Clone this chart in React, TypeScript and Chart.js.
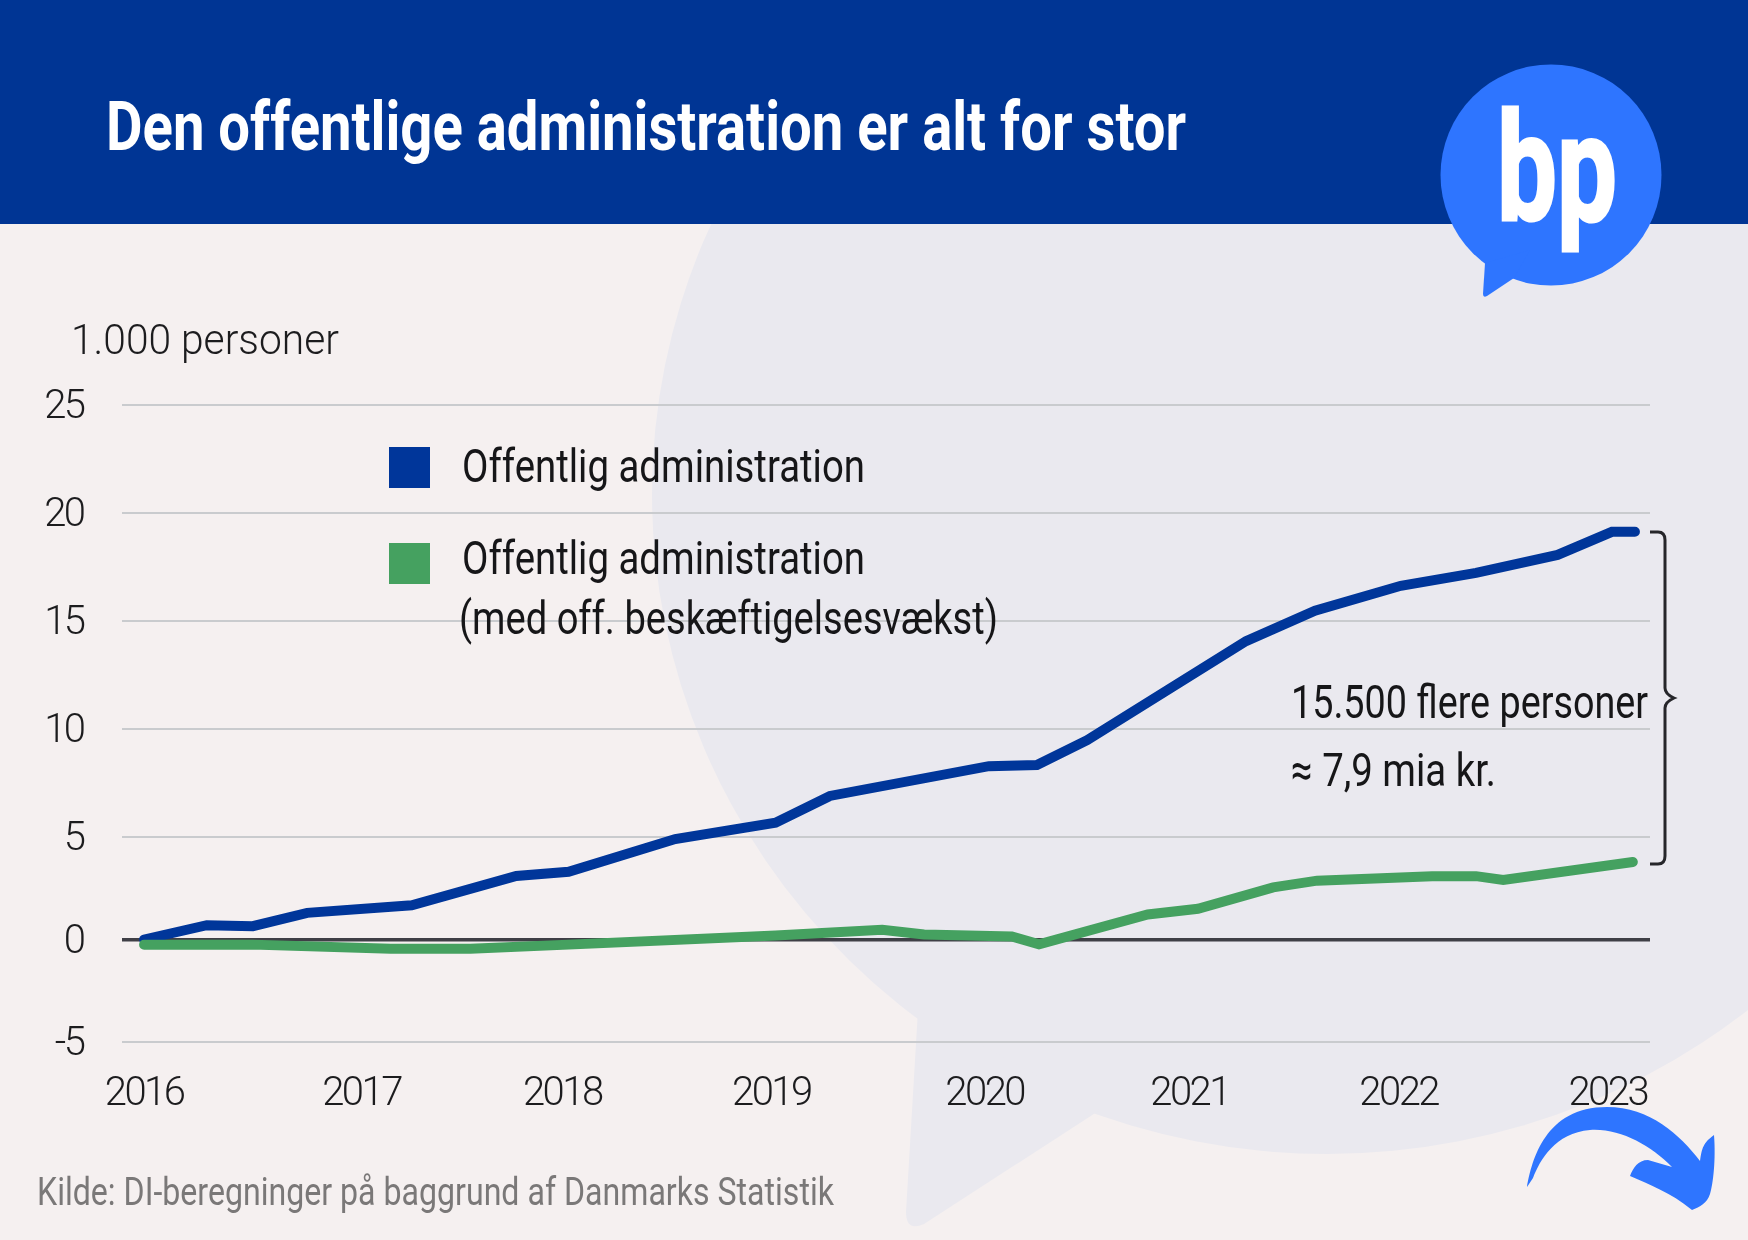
import React, { useEffect, useRef } from "react";
import { Chart, registerables, LinearScale } from "chart.js";

// Decimal-year positions and values (1.000 persons)
const adminYears = [2016.0, 2016.3, 2016.52, 2016.78, 2017.28, 2017.78, 2018.03, 2018.54, 2019.02, 2019.28, 2020.04, 2020.27, 2020.51, 2021.27, 2021.6, 2022.01, 2022.37, 2022.76, 2023.02, 2023.13];
const adminValues = [0.0, 0.7, 0.65, 1.3, 1.67, 3.1, 3.3, 4.9, 5.66, 6.9, 8.28, 8.33, 9.48, 14.07, 15.48, 16.63, 17.23, 18.06, 19.13, 19.13];
const growthYears = [2016.0, 2016.52, 2017.18, 2017.56, 2018.03, 2019.02, 2019.53, 2019.73, 2020.15, 2020.28, 2020.8, 2021.04, 2021.4, 2021.61, 2022.16, 2022.37, 2022.5, 2023.12];
const growthValues = [-0.25, -0.25, -0.45, -0.45, -0.25, 0.2, 0.48, 0.24, 0.15, -0.24, 1.22, 1.5, 2.54, 2.87, 3.09, 3.09, 2.91, 3.78];
const yearTicks = [2016, 2017.04, 2018, 2019, 2020.02, 2021, 2022, 2023];
const valueTicks = [-5, 0, 5, 10, 15, 20, 25];
const seriesNames = ["Offentlig administration", "Offentlig administration"];
const secondLine = "(med off. beskæftigelsesvækst)";
const titleText = "Den offentlige administration er alt for stor";
const unitText = "1.000 personer";
const sourceText = "Kilde: DI-beregninger på baggrund af Danmarks Statistik";
const noteLines = ["15.500 flere personer", "≈ 7,9 mia kr."];

const BLUE = "#00369a";
const GREEN = "#45a160";
const BRIGHT = "#2e75ff";
const NARROW = '"Roboto", sans-serif';

// The reference's value axis is slightly tighter below 5 than above it.
class WarpedLinearScale extends (LinearScale as any) {
  static id = "warpedLinear";
  static defaults = (LinearScale as any).defaults;
  getPixelForValue(v: number) {
    if (v === null || v === undefined) return NaN;
    const total = 20 * 21.6 + 10 * 20.5;
    const dec = v >= 5 ? (205 + (v - 5) * 21.6) / total : ((v + 5) * 20.5) / total;
    return (this as any).getPixelForDecimal(dec);
  }
}

// Tightens the tick labels, which are set in a condensed face in the reference.
const tightTicks = {
  id: "tightTicks",
  beforeDraw(chart: any) {
    chart.ctx.letterSpacing = "-2.5px";
  },
};

Chart.register(...registerables, WarpedLinearScale as any);

function T({ x, y, w, size, children, weight = 400, fill = "#161618", family = NARROW, stroke }: any) {
  return (
    <text x={x} y={y} textLength={w} lengthAdjust="spacingAndGlyphs" fontSize={size} fontWeight={weight} fill={fill} fontFamily={family} stroke={stroke} strokeWidth={stroke ? 3 : undefined}>
      {children}
    </text>
  );
}

export default function App() {
  const ref = useRef<HTMLCanvasElement | null>(null);
  useEffect(() => {
    document.body.style.margin = "0";
    const zeroPad = (s: any) => {
      s.paddingTop = s.paddingBottom = s.paddingLeft = s.paddingRight = 0;
    };
    const chart = new Chart(ref.current as HTMLCanvasElement, {
      type: "line",
      plugins: [tightTicks],
      data: {
        datasets: [
          {
            label: seriesNames[1] + " " + secondLine,
            data: growthYears.map((x, i) => ({ x, y: growthValues[i] })),
            borderColor: GREEN,
            borderWidth: 10,
            borderCapStyle: "round",
            borderJoinStyle: "miter",
            pointRadius: 0,
            tension: 0,
          },
          {
            label: seriesNames[0],
            data: adminYears.map((x, i) => ({ x, y: adminValues[i] })),
            borderColor: BLUE,
            borderWidth: 10,
            borderCapStyle: "round",
            borderJoinStyle: "miter",
            pointRadius: 0,
            tension: 0,
          },
        ],
      },
      options: {
        animation: false,
        responsive: false,
        devicePixelRatio: 1,
        layout: { padding: { top: 405, right: 98, left: 0, bottom: 0 } },
        plugins: { legend: { display: false }, tooltip: { enabled: false }, title: { display: false } },
        scales: {
          x: {
            type: "linear",
            min: 2015.892,
            max: 2023.202,
            afterBuildTicks: (s: any) => {
              s.ticks = yearTicks.map((value) => ({ value }));
            },
            afterFit: (s: any) => {
              s.height = 198;
              zeroPad(s);
            },
            grid: { display: false },
            border: { display: false },
            ticks: {
              autoSkip: false,
              maxRotation: 0,
              padding: 21,
              color: "#1c1c1e",
              font: { family: NARROW, size: 40, weight: "300" },
              callback: (v: any) => String(Math.round(Number(v))),
            },
          },
          y: {
            type: "warpedLinear" as any,
            min: -5,
            max: 25,
            afterBuildTicks: (s: any) => {
              s.ticks = valueTicks.map((value) => ({ value }));
            },
            afterFit: (s: any) => {
              s.width = 121.5;
              zeroPad(s);
            },
            border: { display: false },
            grid: {
              drawTicks: false,
              color: (c: any) => (c.tick && c.tick.value === 0 ? "#3f3f46" : "#c9cbce"),
              lineWidth: (c: any) => (c.tick && c.tick.value === 0 ? 3.5 : 2),
            },
            ticks: {
              padding: 38,
              labelOffset: 3,
              color: "#1c1c1e",
              font: { family: NARROW, size: 40, weight: "300" },
              callback: (v: any) => String(v),
            },
          },
        },
      },
    } as any);
    return () => chart.destroy();
  }, []);

  const layer: React.CSSProperties = { position: "absolute", left: 0, top: 0, display: "block" };
  return (
    <div style={{ position: "relative", width: 1748, height: 1240, overflow: "hidden", background: "#f5f0f0" }}>
      <svg width={1748} height={1240} style={layer}>
        <ellipse cx={1327} cy={494} rx={675} ry={660} fill="#eae9ef" />
        <path d="M918 1010 L906 1212 Q906 1232 924 1224 L1100 1110 Z" fill="#eae9ef" />
      </svg>
      <canvas ref={ref} width={1748} height={1240} style={layer} />
      <svg width={1748} height={1240} style={layer}>
        <rect x={0} y={0} width={1748} height={224} fill="#003594" />
        <T x={106} y={150} w={1080} size={68} weight={700} fill="#ffffff">{titleText}</T>

        <circle cx={1551} cy={175} r={110.5} fill={BRIGHT} />
        <path d="M1485 263 L1483 294 Q1483 298 1487 296 L1514 278 L1530 250 Z" fill={BRIGHT} />
        <T x={1497} y={220} w={120} size={150} weight={700} fill="#ffffff" stroke="#ffffff">bp</T>

        <T x={71} y={354} w={268} size={42} weight={300} fill="#1c1c1e">{unitText}</T>

        <rect x={389} y={447} width={41} height={41} fill={BLUE} />
        <rect x={389} y={543} width={41} height={41} fill={GREEN} />
        <T x={462} y={482} w={403} size={46}>{seriesNames[0]}</T>
        <T x={462} y={574} w={403} size={46}>{seriesNames[1]}</T>
        <T x={459} y={634} w={539} size={46}>{secondLine}</T>

        <T x={1291} y={718} w={357} size={46}>{noteLines[0]}</T>
        <T x={1291} y={786} w={205} size={46}>{noteLines[1]}</T>

        <path
          d="M1650 532 H1658 Q1665 532 1665 540 V688 Q1665 694 1674 698 Q1665 702 1665 708 V856 Q1665 864 1658 864 H1650"
          fill="none"
          stroke="#26262a"
          strokeWidth={3}
        />

        <T x={37} y={1205} w={797} size={39} fill="#7a7878">{sourceText}</T>

        <path
          d="M1527 1187 C1532 1160 1545 1107 1607 1107 C1650 1107 1680 1135 1700 1161 C1702 1148 1703 1143 1714 1135 C1716 1160 1713 1185 1710 1194 C1707 1203 1700 1207 1692 1210 C1670 1192 1650 1185 1630 1176 C1633 1168 1638 1160 1648 1160 L1672 1167 C1650 1145 1620 1128 1590 1130 C1555 1133 1540 1160 1533 1178 Z"
          fill={BRIGHT}
        />
      </svg>
    </div>
  );
}
